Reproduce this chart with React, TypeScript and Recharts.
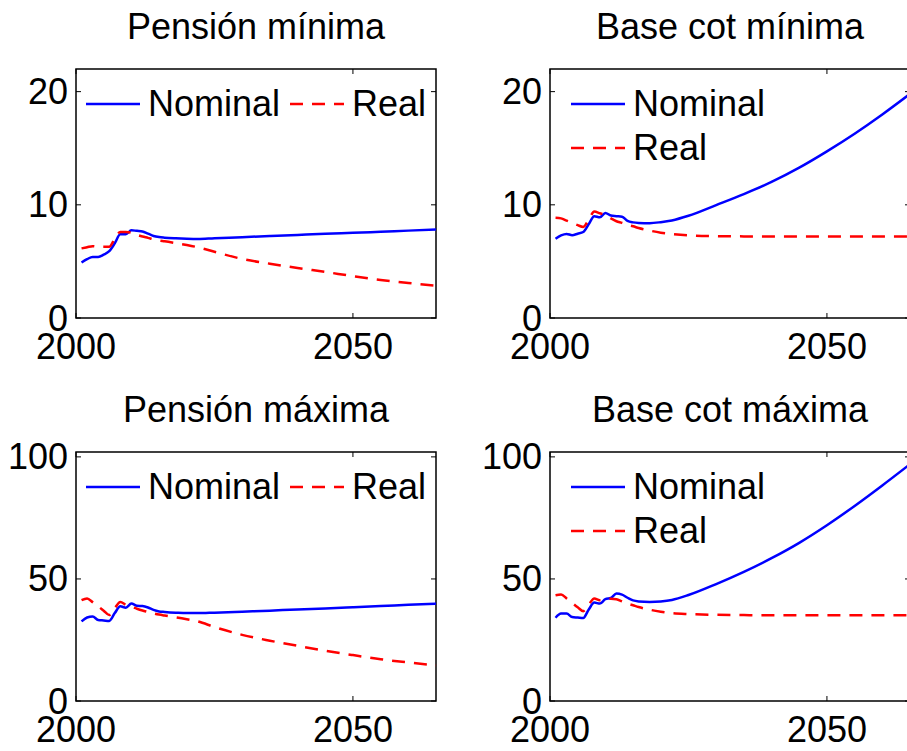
import React from 'react';
import { LineChart, Line, XAxis, YAxis, ReferenceArea, Legend } from 'recharts';

// ---- data ----
const years = [
  2001, 2002, 2003, 2004, 2005, 2006, 2007, 2008, 2009, 2010, 2011, 2012, 2013, 2014, 2015, 2016,
  2018, 2020, 2022, 2025, 2030, 2035, 2040, 2045, 2050, 2055, 2060, 2065,
];

const pensionMinNominal = [
  4.9, 5.2, 5.4, 5.4, 5.6, 5.9, 6.6, 7.4, 7.4, 7.75, 7.7, 7.65, 7.45, 7.25, 7.15, 7.1,
  7.04, 7.0, 6.98, 7.05, 7.14, 7.24, 7.34, 7.44, 7.53, 7.62, 7.72, 7.81,
];
const pensionMinReal = [
  6.15, 6.25, 6.35, 6.3, 6.3, 6.3, 7.0, 7.6, 7.6, 7.55, 7.35, 7.2, 7.08, 6.95, 6.85, 6.78,
  6.62, 6.45, 6.25, 5.85, 5.22, 4.8, 4.42, 4.07, 3.7, 3.36, 3.09, 2.85,
];

const baseMinNominal = [
  7.0, 7.3, 7.43, 7.32, 7.45, 7.6, 8.3, 9.0, 8.9, 9.28, 9.05, 9.0, 8.95, 8.58, 8.45, 8.4,
  8.38, 8.47, 8.62, 9.03, 9.98, 10.95, 12.02, 13.28, 14.72, 16.28, 17.98, 19.8,
];
const baseMinReal = [
  8.85, 8.8, 8.6, 8.4, 8.2, 8.05, 8.7, 9.4, 9.25, 9.1, 8.8, 8.55, 8.4, 8.22, 8.1, 7.95,
  7.72, 7.54, 7.42, 7.3, 7.23, 7.21, 7.2, 7.2, 7.2, 7.2, 7.2, 7.2,
];

const pensionMaxNominal = [
  32.6, 34.2, 34.6, 33.2, 33.0, 32.8, 36.0, 38.8, 38.2, 39.9, 39.0, 38.9, 38.3, 37.3, 36.7, 36.5,
  36.2, 36.0, 36.0, 36.2, 36.6, 37.0, 37.5, 37.9, 38.4, 38.9, 39.4, 39.9,
];
const pensionMaxReal = [
  41.3, 42.0, 40.5, 38.8, 37.0, 35.2, 38.0, 40.6, 39.4, 38.6, 37.8, 37.1, 36.5, 35.9, 35.4, 35.0,
  34.3, 33.5, 32.6, 30.3, 27.1, 24.7, 22.6, 20.6, 18.8, 17.1, 15.8, 14.6,
];

const baseMaxNominal = [
  34.1, 35.8, 35.8, 34.4, 34.2, 34.0, 37.5, 40.3, 39.9, 41.7, 42.2, 44.0, 43.6, 42.3, 41.2, 40.8,
  40.6, 40.8, 41.4, 43.4, 47.9, 52.9, 58.5, 64.8, 72.0, 79.9, 88.3, 97.0,
];
const baseMaxReal = [
  43.3, 43.6, 42.0, 40.2, 38.4, 36.8, 39.5, 42.0, 41.3, 41.6, 41.9, 41.7, 40.8, 39.9, 39.2, 38.5,
  37.4, 36.6, 36.0, 35.6, 35.3, 35.2, 35.1, 35.1, 35.1, 35.1, 35.1, 35.1,
];

const titles = ['Pensión mínima', 'Base cot mínima', 'Pensión máxima', 'Base cot máxima'];
const seriesNames = ['Nominal', 'Real'];
const xDomain = [2000, 2065];
const xTicks = [2000, 2050];
const yDomainMin = [0, 22];
const yTicksMin = [0, 10, 20];
const yDomainMax = [0, 102];
const yTicksMax = [0, 50, 100];

// ---- styling ----
const FONT = '"Liberation Sans", Arial, Helvetica, sans-serif';
const FS = 36;
const CHART_W = 453;
const CHART_H = 375;
const MARGIN = { top: 69, right: 17, bottom: 0, left: 0 };
const Y_AXIS_W = 76;
const X_AXIS_H = 57;
const PLOT_W = CHART_W - MARGIN.left - MARGIN.right - Y_AXIS_W;
const PLOT_H = CHART_H - MARGIN.top - MARGIN.bottom - X_AXIS_H;
const Y_GAP = 8;
const X_GAP = 15;
const INNER = 5;

const YTick = (props: any) => {
  const { x, y, payload } = props;
  const ax = x + Y_GAP;
  return (
    <g>
      <line x1={ax} x2={ax + INNER} y1={y} y2={y} stroke="#000" strokeWidth={1} />
      <line x1={ax + PLOT_W - INNER} x2={ax + PLOT_W} y1={y} y2={y} stroke="#000" strokeWidth={1} />
      <text x={x} y={y} dy={12.5} textAnchor="end" fontSize={FS} fontFamily={FONT} fill="#000">
        {payload.value}
      </text>
    </g>
  );
};

const XTick = (props: any) => {
  const { x, y, payload } = props;
  const ay = y - X_GAP;
  return (
    <g>
      <line x1={x} x2={x} y1={ay} y2={ay - INNER} stroke="#000" strokeWidth={1} />
      <line x1={x} x2={x} y1={ay - PLOT_H} y2={ay - PLOT_H + INNER} stroke="#000" strokeWidth={1} />
      <text x={x} y={y} dy={25.5} textAnchor="middle" fontSize={FS} fontFamily={FONT} fill="#000">
        {payload.value}
      </text>
    </g>
  );
};

const makeLegend = (stacked: boolean) => (props: any) => {
  const { payload } = props;
  return (
    <div
      style={{
        display: 'flex',
        flexDirection: stacked ? 'column' : 'row',
        fontFamily: FONT,
        fontSize: FS,
        whiteSpace: 'nowrap',
        color: '#000',
      }}
    >
      {(payload || []).map((entry: any, i: number) => (
        <div
          key={i}
          style={{ display: 'flex', alignItems: 'center', height: 44, marginRight: stacked ? 0 : 10 }}
        >
          <svg width={54} height={10} style={{ display: 'block' }}>
            <line
              x1={0}
              x2={54}
              y1={5}
              y2={5}
              stroke={entry.color}
              strokeWidth={2.5}
              strokeDasharray={entry.payload && entry.payload.strokeDasharray}
            />
          </svg>
          <span style={{ marginLeft: 8, lineHeight: '44px' }}>{entry.value}</span>
        </div>
      ))}
    </div>
  );
};

type PanelProps = {
  left: number;
  top: number;
  title: string;
  nominal: number[];
  real: number[];
  yDomain: number[];
  yTicks: number[];
  stacked: boolean;
  legendLeft: number;
};

const Panel = ({ left, top, title, nominal, real, yDomain, yTicks, stacked, legendLeft }: PanelProps) => {
  const data = years.map((year, i) => ({ year, nominal: nominal[i], real: real[i] }));
  return (
    <div style={{ position: 'absolute', left, top, width: CHART_W, height: CHART_H }}>
      <div
        style={{
          position: 'absolute',
          left: MARGIN.left + Y_AXIS_W,
          width: PLOT_W,
          top: 8.5,
          textAlign: 'center',
          fontFamily: FONT,
          fontSize: FS,
          lineHeight: '36px',
          whiteSpace: 'nowrap',
          color: '#000',
        }}
      >
        {title}
      </div>
      <LineChart width={CHART_W} height={CHART_H} data={data} margin={MARGIN}>
        <XAxis
          dataKey="year"
          type="number"
          domain={xDomain}
          ticks={xTicks}
          height={X_AXIS_H}
          axisLine={false}
          tickLine={false}
          tickSize={0}
          tickMargin={X_GAP}
          tick={<XTick />}
          interval={0}
        />
        <YAxis
          type="number"
          domain={yDomain}
          ticks={yTicks}
          width={Y_AXIS_W}
          axisLine={false}
          tickLine={false}
          tickSize={0}
          tickMargin={Y_GAP}
          tick={<YTick />}
          interval={0}
        />
        <ReferenceArea
          x1={xDomain[0]}
          x2={xDomain[1]}
          y1={yDomain[0]}
          y2={yDomain[1]}
          fill="none"
          fillOpacity={0}
          stroke="#000"
          strokeWidth={1.5}
        />
        <Line
          type="monotone"
          dataKey="nominal"
          name={seriesNames[0]}
          stroke="#0000ff"
          strokeWidth={2.5}
          dot={false}
          activeDot={false}
          isAnimationActive={false}
        />
        <Line
          type="monotone"
          dataKey="real"
          name={seriesNames[1]}
          stroke="#ff0000"
          strokeWidth={2.5}
          strokeDasharray="13 9"
          dot={false}
          activeDot={false}
          isAnimationActive={false}
        />
        <Legend
          layout="horizontal"
          align="center"
          verticalAlign="middle"
          content={makeLegend(stacked)}
          wrapperStyle={{ left: legendLeft, top: 82, width: 'auto', height: 'auto' }}
        />
      </LineChart>
    </div>
  );
};

export default function App() {
  return (
    <div
      style={{
        position: 'fixed',
        left: 0,
        top: 0,
        width: 907,
        height: 751,
        overflow: 'hidden',
        background: '#fff',
      }}
    >
      <Panel left={0} top={0} title={titles[0]} nominal={pensionMinNominal} real={pensionMinReal}
        yDomain={yDomainMin} yTicks={yTicksMin} stacked={false} legendLeft={86} />
      <Panel left={474} top={0} title={titles[1]} nominal={baseMinNominal} real={baseMinReal}
        yDomain={yDomainMin} yTicks={yTicksMin} stacked={true} legendLeft={97} />
      <Panel left={0} top={383} title={titles[2]} nominal={pensionMaxNominal} real={pensionMaxReal}
        yDomain={yDomainMax} yTicks={yTicksMax} stacked={false} legendLeft={86} />
      <Panel left={474} top={383} title={titles[3]} nominal={baseMaxNominal} real={baseMaxReal}
        yDomain={yDomainMax} yTicks={yTicksMax} stacked={true} legendLeft={97} />
    </div>
  );
}
